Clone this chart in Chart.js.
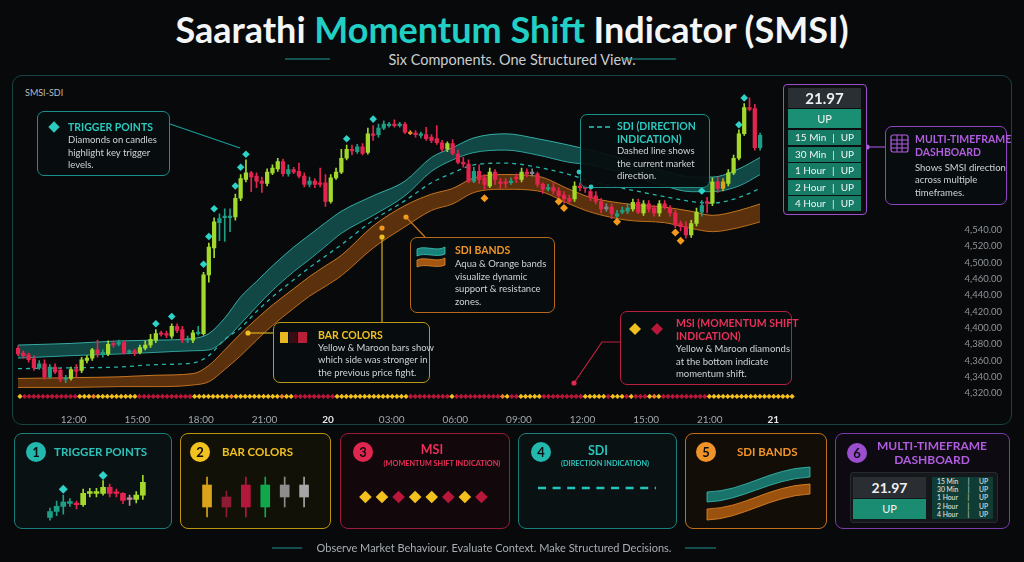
<!DOCTYPE html>
<html>
<head>
<meta charset="utf-8">
<title>Saarathi Momentum Shift Indicator (SMSI)</title>
<script src="https://cdn.jsdelivr.net/npm/chart.js"></script>
<style>
  body { margin: 0; width: 1024px; height: 562px; background: #07090b; font-family: 'Lato', sans-serif; color: #d2d5d8; position: relative; overflow: hidden; }
  .a { position: absolute; white-space: nowrap; }
  .box { position: absolute; box-sizing: border-box; border-radius: 7px; background: rgba(7, 14, 15, 0.94); border: 1.2px solid; }
  .ttl { position: absolute; font-weight: 700; font-size: 10.5px; line-height: 12.8px; white-space: nowrap; }
  .txt { position: absolute; font-size: 9.5px; line-height: 12.5px; color: #d0d3d6; white-space: nowrap; }
  .card { position: absolute; top: 433px; height: 96px; box-sizing: border-box; border-radius: 8px; border: 1px solid; }
  .num { position: absolute; width: 20px; height: 20px; border-radius: 50%; text-align: center; line-height: 20px; font-weight: 700; font-size: 13px; color: #0b0d0f; }
  .ctl { position: absolute; font-weight: 700; font-size: 11.5px; line-height: 14px; white-space: nowrap; }
  .sub { position: absolute; font-weight: 700; font-size: 7.3px; line-height: 9px; white-space: nowrap; text-align: center; }
  canvas { position: absolute; }
  .dash-row { position: absolute; left: 788px; width: 73px; height: 15px; background: #177c66; color: #f2f4f5; font-size: 10px; line-height: 15px; display: flex; justify-content: space-between; box-sizing: border-box; padding: 0 7px; }
  .mini-row { height: 8.2px; font-size: 6.8px; line-height: 8.2px; color: #e8eaec; display: flex; justify-content: space-between; padding: 0 5px; }
</style>
</head>
<body>
    <!-- HEADER -->
    <div class="a" style="left:0; width:1024px; top:9px; text-align:center; font-size:36px; line-height:40px; font-weight:700; color:#f4f5f6;">Saarathi <span style="color:#22cfc4">Momentum Shift</span> Indicator (SMSI)</div>
    <div class="a" style="left:0; width:1024px; top:51px; text-align:center; font-size:14.5px; line-height:18px; color:#c9cdd0;">Six Components. One Structured View.</div>

    <!-- CHART FRAME -->
    <div class="a" style="left:12px; top:75px; width:1000px; height:350px; box-sizing:border-box; border:1px solid #174441; border-radius:10px; background:#07090b;"></div>
    <div class="a" style="left:25px; top:87px; font-size:9px; line-height:11px; color:#b8bcc0;">SMSI-SDI</div>
    <canvas id="mainChart" width="1000" height="350" style="left:12px; top:75px;"></canvas>

    <!-- CONNECTORS AND ICONS -->
    <svg class="a" style="left:0; top:0;" width="1024" height="562">
        <line x1="285" y1="59" x2="330" y2="59" stroke="#1a9e96" stroke-width="1.2"/>
        <line x1="622" y1="59" x2="676" y2="59" stroke="#1a9e96" stroke-width="1.2"/>
        <line x1="170" y1="124" x2="240" y2="148" stroke="#1a9e96" stroke-width="1.2"/>
        <line x1="248" y1="333" x2="273" y2="333" stroke="#d8b020" stroke-width="1.2"/>
        <circle cx="248" cy="333" r="2.6" fill="#f0c020"/>
        <line x1="382" y1="237" x2="382" y2="322" stroke="#d8b020" stroke-width="1.2"/>
        <circle cx="382" cy="237" r="2.6" fill="#f0c020"/>
        <circle cx="382" cy="228" r="2.6" fill="#f09a20"/>
        <line x1="406" y1="217" x2="425" y2="237" stroke="#c8741c" stroke-width="1.2"/>
        <circle cx="406" cy="217" r="2.6" fill="#f09a20"/>
        <polyline points="574,383 602,342 620,342" fill="none" stroke="#c0203f" stroke-width="1.2"/>
        <circle cx="574" cy="383" r="2.6" fill="#e0284f"/>
        <line x1="867" y1="147" x2="885" y2="147" stroke="#9b4fcf" stroke-width="1.2"/>
        <circle cx="867" cy="147" r="2.6" fill="#b060e0"/>
        <line x1="272" y1="548" x2="302" y2="548" stroke="#1a7f7a" stroke-width="1.2"/>
        <line x1="685" y1="548" x2="716" y2="548" stroke="#1a7f7a" stroke-width="1.2"/>
    </svg>

    <!-- CALLOUT: TRIGGER POINTS -->
    <div class="box" style="left:37px; top:111px; width:133px; height:65px; border-color:#1b8f89;"></div>
    <div class="a" style="left:50px; top:123px; width:8px; height:8px; background:#2cc9bf; transform:rotate(45deg);"></div>
    <div class="ttl" style="left:68px; top:121px; color:#2cc9bf;">TRIGGER POINTS</div>
    <div class="txt" style="left:68px; top:134px;">Diamonds on candles<br>highlight key trigger<br>levels.</div>

    <!-- CALLOUT: SDI -->
    <div class="box" style="left:580px; top:114px; width:130px; height:74px; border-color:#1b8f89;"></div>
    <svg class="a" style="left:588px; top:124px;" width="24" height="6"><line x1="1" y1="3" x2="22" y2="3" stroke="#2cc9bf" stroke-width="1.6" stroke-dasharray="5 3"/></svg>
    <div class="ttl" style="left:617px; top:120px; color:#2cc9bf;">SDI (DIRECTION<br>INDICATION)</div>
    <div class="txt" style="left:617px; top:145px;">Dashed line shows<br>the current market<br>direction.</div>
    <svg class="a" style="left:0; top:0;" width="1024" height="562"><circle cx="579" cy="172" r="2.4" fill="#2cc9bf"/><circle cx="591" cy="187" r="2.4" fill="#2cc9bf"/></svg>

    <!-- CALLOUT: SDI BANDS -->
    <div class="box" style="left:410px; top:237px; width:145px; height:76px; border-color:#b8681a;"></div>
    <svg class="a" style="left:0; top:0;" width="1024" height="562">
        <path d="M417 249 C 425 245, 437 252, 445 247 L 445 254 C 437 258, 425 252, 417 256 Z" fill="rgba(34,170,160,0.75)" stroke="#3cc8bd" stroke-width="0.8"/>
        <path d="M417 260 C 425 256, 437 263, 445 258 L 445 265 C 437 269, 425 263, 417 267 Z" fill="rgba(200,105,20,0.8)" stroke="#e88a2a" stroke-width="0.8"/>
    </svg>
    <div class="ttl" style="left:455px; top:244px; color:#f0952a;">SDI BANDS</div>
    <div class="txt" style="left:455px; top:258px; line-height:12.6px;">Aqua &amp; Orange bands<br>visualize dynamic<br>support &amp; resistance<br>zones.</div>

    <!-- CALLOUT: BAR COLORS -->
    <div class="box" style="left:273px; top:322px; width:157px; height:61px; border-color:#b89a18;"></div>
    <div class="a" style="left:280px; top:332px; width:8px; height:11px; background:#e8b820;"></div>
    <div class="a" style="left:289px; top:332px; width:8px; height:11px; background:#3a0c14;"></div>
    <div class="a" style="left:298px; top:332px; width:9px; height:11px; background:#b8203a;"></div>
    <div class="ttl" style="left:318px; top:329px; color:#f0c020;">BAR COLORS</div>
    <div class="txt" style="left:318px; top:342px; line-height:12.3px;">Yellow &amp; Maroon bars show<br>which side was stronger in<br>the previous price fight.</div>

    <!-- CALLOUT: MSI -->
    <div class="box" style="left:620px; top:311px; width:172px; height:74px; border-color:#b8203f;"></div>
    <svg class="a" style="left:0; top:0;" width="1024" height="562">
        <polygon points="635,323 641,329 635,335 629,329" fill="#f0c020"/>
        <polygon points="657,323 663,329 657,335 651,329" fill="#b8173a"/>
    </svg>
    <div class="ttl" style="left:676px; top:317px; color:#e8305a;">MSI (MOMENTUM SHIFT<br>INDICATION)</div>
    <div class="txt" style="left:676px; top:343px;">Yellow &amp; Maroon diamonds<br>at the bottom indicate<br>momentum shift.</div>

    <!-- DASHBOARD PANEL -->
    <div class="a" style="left:783px; top:84px; width:84px; height:131px; box-sizing:border-box; border:1.5px solid #9b4fcf; border-radius:4px; background:#0c0e10;"></div>
    <div class="a" style="left:788px; top:88px; width:73px; height:20px; background:#2a2f34; color:#eef0f2; font-size:15px; font-weight:700; line-height:20px; text-align:center;">21.97</div>
    <div class="a" style="left:788px; top:109px; width:73px; height:19px; background:#1b8f74; color:#f2f4f5; font-size:11px; line-height:19px; text-align:center;">UP</div>
    <div class="dash-row" style="top:130px;"><span>15 Min</span><span>|</span><span>UP</span></div>
    <div class="dash-row" style="top:147px;"><span>30 Min</span><span>|</span><span>UP</span></div>
    <div class="dash-row" style="top:163px;"><span>1 Hour</span><span>|</span><span>UP</span></div>
    <div class="dash-row" style="top:180px;"><span>2 Hour</span><span>|</span><span>UP</span></div>
    <div class="dash-row" style="top:196px;"><span>4 Hour</span><span>|</span><span>UP</span></div>

    <!-- CALLOUT: MULTI-TIMEFRAME -->
    <div class="box" style="left:885px; top:126px; width:122px; height:79px; border-color:#8e44c0;"></div>
    <svg class="a" style="left:890px; top:134px;" width="20" height="20">
        <rect x="1" y="1" width="17" height="17" rx="2" fill="none" stroke="#b25ce0" stroke-width="1.2"/>
        <line x1="1" y1="6" x2="18" y2="6" stroke="#b25ce0" stroke-width="1"/>
        <line x1="1" y1="10" x2="18" y2="10" stroke="#b25ce0" stroke-width="1"/>
        <line x1="1" y1="14" x2="18" y2="14" stroke="#b25ce0" stroke-width="1"/>
        <line x1="7" y1="1" x2="7" y2="18" stroke="#b25ce0" stroke-width="1"/>
        <line x1="12" y1="1" x2="12" y2="18" stroke="#b25ce0" stroke-width="1"/>
    </svg>
    <div class="ttl" style="left:915px; top:133px; line-height:13px; color:#b25ce0;">MULTI-TIMEFRAME<br>DASHBOARD</div>
    <div class="txt" style="left:915px; top:161.5px; line-height:12.6px;">Shows SMSI direction<br>across multiple<br>timeframes.</div>

    <!-- COMPONENT CARDS -->
    <div class="card" style="left:14px; width:158px; border-color:#1a7f7a; background:#0a1112;"></div>
    <div class="card" style="left:180px; width:151px; border-color:#b8960f; background:#121108;"></div>
    <div class="card" style="left:340px; width:170px; border-color:#9a1c38; background:#12080b;"></div>
    <div class="card" style="left:518px; width:159px; border-color:#1a7f7a; background:#0a1112;"></div>
    <div class="card" style="left:685px; width:142px; border-color:#c0701a; background:#130d07;"></div>
    <div class="card" style="left:835px; width:175px; border-color:#7a3aa8; background:#0e0a12;"></div>

    <div class="num" style="left:26px; top:442px; background:#22b8ae;">1</div>
    <div class="num" style="left:190px; top:442px; background:#f2c21e;">2</div>
    <div class="num" style="left:353px; top:442px; background:#e0264f;">3</div>
    <div class="num" style="left:531px; top:442px; background:#22b8ae;">4</div>
    <div class="num" style="left:696px; top:442px; background:#f0922a;">5</div>
    <div class="num" style="left:847px; top:443px; background:#9b4fcf;">6</div>

    <div class="ctl" style="left:54px; top:445px; color:#2cc3bb;">TRIGGER POINTS</div>
    <div class="ctl" style="left:222px; top:445px; color:#f0c020;">BAR COLORS</div>
    <div class="ctl" style="left:382px; width:100px; top:443px; text-align:center; font-size:12.5px; color:#e8305a;">MSI</div>
    <div class="sub" style="left:372px; width:140px; top:459px; color:#e8305a;">(MOMENTUM SHIFT INDICATION)</div>
    <div class="ctl" style="left:548px; width:100px; top:444px; text-align:center; font-size:12.5px; color:#2cc3bb;">SDI</div>
    <div class="sub" style="left:535px; width:140px; top:459px; color:#2cc3bb;">(DIRECTION INDICATION)</div>
    <div class="ctl" style="left:737px; top:445px; color:#f0952a;">SDI BANDS</div>
    <div class="ctl" style="left:862px; width:140px; top:439px; text-align:center; font-size:12px; color:#b25ce0;">MULTI-TIMEFRAME<br>DASHBOARD</div>

    <canvas id="tpChart" width="114" height="64" style="left:40px; top:464px;"></canvas>
    <canvas id="bcChart" width="125" height="56" style="left:195px; top:468px;"></canvas>
    <canvas id="msiChart" width="150" height="30" style="left:350px; top:482px;"></canvas>

    <svg class="a" style="left:0; top:0;" width="1024" height="562">
        <line x1="538" y1="488" x2="656" y2="488" stroke="#22c5bb" stroke-width="2.5" stroke-dasharray="8 6.6"/>
        <path d="M707 492 C 745 491, 768 469, 810 467 L 810 477 C 770 479, 742 501, 707 502 Z" fill="rgba(30,150,140,0.75)" stroke="#36c0b5" stroke-width="0.8"/>
        <path d="M707 509 C 745 508, 768 486, 810 484 L 810 494 C 770 496, 742 519, 707 520 Z" fill="rgba(190,100,18,0.8)" stroke="#e88a2a" stroke-width="0.8"/>
    </svg>

    <!-- MINI DASHBOARD -->
    <div class="a" style="left:850px; top:472px; width:148px; height:51px; box-sizing:border-box; background:#15181b; border:1px solid #262a2e; border-radius:3px;"></div>
    <div class="a" style="left:853px; top:477px; width:73px; height:21px; background:#2a2e33; color:#eef0f2; font-size:14px; font-weight:700; line-height:21px; text-align:center;">21.97</div>
    <div class="a" style="left:853px; top:499px; width:73px; height:20px; background:#1a8c72; color:#f2f4f5; font-size:11px; line-height:20px; text-align:center;">UP</div>
    <div class="a" style="left:932px; top:477px; width:61px; height:42px; background:#0f3d35;">
        <div class="mini-row"><span>15 Min</span><span>|</span><span>UP</span></div>
        <div class="mini-row"><span>30 Min</span><span>|</span><span>UP</span></div>
        <div class="mini-row"><span>1 Hour</span><span>|</span><span>UP</span></div>
        <div class="mini-row"><span>2 Hour</span><span>|</span><span>UP</span></div>
        <div class="mini-row"><span>4 Hour</span><span>|</span><span>UP</span></div>
    </div>

    <!-- FOOTER -->
    <div class="a" style="left:0; width:988px; top:541px; text-align:center; font-size:11px; line-height:14px; color:#a9adb1;">Observe Market Behaviour. Evaluate Context. Make Structured Decisions.</div>

    <script>
        // ===== AXIS LABELS =====
        const xTickLabels = ['12:00', '15:00', '18:00', '21:00', '20', '03:00', '06:00', '09:00', '12:00', '15:00', '21:00', '21'];
        const yTickLabels = ['4,540.00', '4,520.00', '4,500.00', '4,460.00', '4,440.00', '4,420.00', '4,400.00', '4,380.00', '4,360.00', '4,340.00', '4,320.00'];
        const firstTick = 10.5;       // candle index of the first time label
        const candlesPerTick = 12;    // 15 min candles, 3 hour labels

        // ===== CANDLES (15 min) =====
        const opens = [4375,4369,4367,4362,4351,4356,4340,4352,4348,4337, 4338,4349,4348,4360,4363,4373,4368,4368,4381,4380,
                       4382,4370,4372,4370,4375,4379,4385,4394,4393,4390, 4402,4398,4385,4385,4393,4393,4465,4498,4529,4535,
                       4535,4536,4559,4582,4590,4586,4580,4577,4590,4595, 4604,4589,4594,4592,4586,4576,4580,4578,4578,4555,
                       4584,4591,4608,4619,4616,4622,4615,4638,4637,4645, 4648,4650,4648,4650,4640,4639,4636,4637,4634,4632,
                       4627,4619,4626,4613,4603,4601,4580,4592,4584,4574, 4591,4579,4579,4578,4585,4582,4591,4589,4589,4576,
                       4570,4572,4568,4563,4559,4558,4574,4573,4567,4562, 4555,4546,4548,4537,4542,4543,4546,4554,4541,4552,
                       4547,4541,4552,4547,4541,4528,4524,4514,4528,4542, 4555,4553,4579,4571,4577,4590,4608,4638,4670,4669,
                       4621];
        const highs = [4378,4372,4369,4366,4360,4361,4355,4356,4350,4342, 4352,4355,4364,4366,4375,4385,4373,4384,4384,4385,
                       4384,4373,4374,4379,4384,4392,4398,4396,4396,4405, 4405,4402,4390,4397,4402,4468,4504,4535,4540,4546,
                       4546,4564,4588,4606,4592,4590,4585,4595,4600,4608, 4607,4600,4597,4602,4590,4585,4583,4596,4588,4588,
                       4596,4619,4624,4624,4625,4626,4645,4648,4650,4654, 4652,4655,4652,4652,4642,4642,4640,4646,4637,4648,
                       4630,4628,4631,4618,4609,4606,4597,4600,4588,4596, 4594,4583,4583,4584,4589,4596,4595,4595,4591,4578,
                       4576,4578,4572,4567,4563,4579,4578,4577,4572,4567, 4559,4552,4552,4544,4548,4552,4558,4558,4556,4556,
                       4550,4556,4556,4550,4544,4531,4530,4532,4547,4556, 4560,4584,4585,4583,4594,4612,4643,4675,4682,4674,
                       4639];
        const lows = [4366,4363,4358,4348,4349,4337,4338,4344,4334,4333, 4336,4340,4345,4357,4360,4364,4364,4366,4376,4378,
                      4368,4368,4366,4368,4373,4376,4382,4390,4388,4387, 4394,4382,4382,4382,4391,4391,4456,4486,4507,4506,
                      4518,4532,4556,4579,4567,4572,4566,4574,4588,4592, 4586,4586,4589,4584,4573,4573,4572,4573,4549,4553,
                      4582,4589,4606,4612,4614,4612,4613,4630,4634,4643, 4646,4646,4646,4638,4637,4634,4633,4630,4627,4625,
                      4616,4616,4612,4601,4597,4578,4578,4577,4570,4572, 4576,4571,4572,4576,4578,4579,4585,4586,4573,4565,
                      4568,4564,4560,4553,4552,4555,4568,4566,4556,4552, 4541,4543,4534,4535,4540,4540,4543,4540,4538,4542,
                      4537,4537,4546,4537,4523,4519,4510,4511,4525,4537, 4541,4550,4566,4568,4574,4588,4606,4636,4666,4618,
                      4618];
        const closes = [4368,4366,4361,4351,4356,4340,4352,4346,4337,4339, 4349,4347,4361,4363,4373,4368,4370,4380,4379,4382,
                        4369,4372,4369,4376,4379,4386,4393,4392,4391,4402, 4397,4385,4387,4394,4395,4465,4499,4530,4534,4537,
                        4537,4559,4583,4590,4585,4580,4577,4591,4596,4604, 4589,4594,4591,4586,4576,4580,4576,4576,4555,4584,
                        4591,4608,4619,4617,4622,4614,4638,4636,4645,4650, 4650,4648,4650,4640,4638,4637,4638,4632,4630,4627,
                        4619,4626,4614,4603,4601,4580,4592,4582,4576,4591, 4582,4577,4577,4580,4583,4591,4589,4591,4576,4570,
                        4572,4568,4562,4558,4555,4574,4572,4571,4560,4555, 4546,4548,4540,4540,4544,4547,4554,4542,4552,4546,
                        4541,4552,4548,4541,4526,4524,4514,4528,4542,4550, 4553,4579,4571,4579,4590,4608,4638,4670,4668,4621,
                        4636];
        // bar colour state: L strong up, T up, R down, G neutral, O / Y shift bars
        const barKinds = 'RRRRTRTRRT' + 'LRLLLRTLRT' + 'RTRLLLLRRL' + 'RRTLTLLLTT' + 'TLLLRRRLLL' +
                         'RTRRRTRRRL' + 'LLLRTRLRTT' + 'TRTROR' + 'TRRR' + 'RLRRRRTRRL' +
                         'RRRTRLRGRR' + 'TRRRRLRRRR' + 'RGRTTTLRLR' + 'RLRRRRRLLT' + 'RLRYLLLLRR' + 'T';

        // ===== TRIGGER POINTS (above candles) & SHIFT DIAMONDS (below candles) =====
        const triggerIdx = [26, 29, 35, 36, 37, 41, 42, 43, 62, 67, 129, 136, 137];
        const triggerVal = [4405, 4414, 4478, 4512, 4546, 4574, 4597, 4613, 4632, 4656, 4568, 4649, 4682];
        const shiftIdx = [88, 102, 103, 113, 124, 125];
        const shiftVal = [4559, 4555, 4547, 4530, 4517, 4507];

        // ===== SDI BANDS & SDI LINE =====
        const bandIdx =    [0, 10, 19, 26, 33, 36, 39, 42, 45, 48, 52, 55, 58, 61, 67, 73, 78, 82, 86, 92, 98, 104, 108, 115, 122, 127, 131, 136, 140];
        const aquaHigh =   [4379,4381,4384,4385,4387,4393,4412,4438,4457,4476,4499,4514,4529,4543,4562,4580,4609,4621,4633,4638,4632,4624,4618,4606,4592,4585,4585,4595,4609];
        const aquaLow =    [4363,4366,4368,4370,4372,4373,4385,4405,4426,4446,4469,4484,4500,4516,4538,4562,4592,4606,4615,4618,4612,4603,4600,4588,4574,4567,4567,4574,4588];
        const orangeHigh = [4338,4339,4340,4342,4344,4354,4373,4393,4411,4428,4448,4463,4476,4489,4525,4550,4564,4571,4584,4588,4586,4570,4560,4552,4548,4543,4538,4544,4552];
        const orangeLow =  [4327,4327,4328,4328,4330,4334,4349,4366,4385,4403,4424,4439,4451,4464,4498,4524,4544,4552,4566,4570,4568,4552,4542,4532,4529,4522,4518,4523,4530];
        const sdiLine =    [4350,4351,4352,4355,4357,4366,4386,4400,4420,4438,4459,4474,4488,4502,4532,4556,4578,4590,4600,4602,4597,4588,4580,4570,4561,4555,4553,4560,4571];

        // ===== MSI ROW (Y yellow, M maroon, O orange) =====
        const msiStates = ('Y MMMMMMMMMMMM YYYOYYYYYYYYY MMMMMMMMMMMM YYYYYYYYOYYYYYYYYYYOYY MMMMMMMMM YYYYYYYYYYYYYYYY ' +
                           'MMMMMMMMM Y MMMMMMMMMM OY MM YYYYY MMMMMMMMM YYYYY M YYY M Y MMM YOY MMMMMMMMMM YYYYYYYYYYYYYYYYYYY')
                           .replace(/ /g, '').split('');
        const msiLevel = 4316;

        // ===== CARD SAMPLES =====
        const tpOpen  = [9, 16, 22, 25.5, 25, 24, 37, 37, 37, 44, 38, 37, 30, 30, 35];
        const tpHigh  = [20, 28, 35, 31, 28, 42, 43, 43, 52, 48, 42, 38, 35, 39, 58];
        const tpLow   = [6, 11, 13, 22, 19, 22, 33, 33, 35, 33, 33, 25, 23, 26, 30];
        const tpClose = [16, 22, 27, 27.5, 24, 37, 39, 39, 44, 37, 37, 29, 32, 35, 50];
        const tpKinds = 'TTTTRLLLLRRRPLL';
        const tpTrigIdx = [2, 8];
        const tpTrigVal = [42, 58];

        const bcOpen  = [23, 33, 45, 23, 33, 33];
        const bcHigh  = [53, 39, 53, 53, 53, 53];
        const bcLow   = [13, 13, 13, 13, 23, 23];
        const bcClose = [45, 23, 23, 45, 45, 45];
        const bcKinds = 'YMCESW';

        const msiSample = ['Y', 'Y', 'M', 'Y', 'Y', 'M', 'Y', 'M'];

        // ===== COLOURS =====
        const barPalette = { L: '#a3d92c', T: '#1f9e86', R: '#e2244e', G: '#7f8589', O: '#e8892a', Y: '#d9a41c',
                             M: '#8e1b34', C: '#b3173c', E: '#11a84b', S: '#8d8d8d', W: '#a5a5a5', P: '#c68c9c' };
        const msiPalette = { Y: '#f3c11d', M: '#b8173a', O: '#ef7d2c' };

        Chart.defaults.font.family = 'Lato';

        function candleDatasets(o, h, l, c, kinds, bodyW) {
            const colors = kinds.split('').map(k => barPalette[k]);
            return [
                { type: 'bar', data: o.map((v, i) => ({ x: i, y: [Math.min(v, c[i]), Math.max(v, c[i])] })),
                  backgroundColor: colors, barThickness: bodyW, grouped: false, minBarLength: 1.5, order: 3 },
                { type: 'bar', data: l.map((v, i) => ({ x: i, y: [v, h[i]] })),
                  backgroundColor: colors, barThickness: 1, grouped: false, order: 4 }
            ];
        }

        function bandLine(vals, color, extra) {
            return Object.assign({ type: 'line', data: bandIdx.map((x, k) => ({ x: x, y: vals[k] })),
                borderColor: color, borderWidth: 1, pointRadius: 0, cubicInterpolationMode: 'monotone', fill: false, order: 10 }, extra);
        }

        function diamonds(idx, vals, color, radius, extra) {
            return Object.assign({ type: 'line', data: idx.map((x, k) => ({ x: x, y: vals[k] })), showLine: false, clip: false,
                pointStyle: 'rectRot', pointRadius: radius, pointBackgroundColor: color, pointBorderWidth: 0, order: 1 }, extra);
        }

        // ===== MAIN CHART =====
        new Chart(document.getElementById('mainChart'), {
            type: 'bar',
            data: {
                datasets: [
                    bandLine(aquaHigh, 'rgba(70,215,205,0.75)', { fill: '+1', backgroundColor: 'rgba(30,160,150,0.42)' }),
                    bandLine(aquaLow, 'rgba(70,215,205,0.75)'),
                    bandLine(orangeHigh, 'rgba(235,140,40,0.8)', { fill: '+1', backgroundColor: 'rgba(195,100,15,0.45)' }),
                    bandLine(orangeLow, 'rgba(235,140,40,0.8)'),
                    bandLine(sdiLine, '#28b5aa', { borderWidth: 1.3, borderDash: [4, 4], order: 9 }),
                    ...candleDatasets(opens, highs, lows, closes, barKinds, 3.6),
                    diamonds(triggerIdx, triggerVal, '#2fd2c6', 3.8),
                    diamonds(shiftIdx, shiftVal, '#f39a1c', 4),
                    diamonds(msiStates.map((s, i) => i), msiStates.map(() => msiLevel),
                             msiStates.map(s => msiPalette[s]), 2.7, { xAxisID: 'x2' })
                ]
            },
            options: {
                responsive: false,
                animation: false,
                layout: { padding: { left: 4, top: 10, right: 10, bottom: 0 } },
                plugins: { legend: { display: false }, tooltip: { enabled: false } },
                scales: {
                    x: {
                        type: 'linear', min: -0.38, max: 176.2, offset: false,
                        grid: { display: false }, border: { display: false },
                        afterBuildTicks: s => { s.ticks = xTickLabels.map((_, k) => ({ value: firstTick + k * candlesPerTick })); },
                        afterFit: s => { s.height = 25; },
                        ticks: {
                            autoSkip: false, maxRotation: 0, padding: 6,
                            color: ctx => (xTickLabels[ctx.index] || '').includes(':') ? '#a3a8ad' : '#e6e8ea',
                            font: ctx => ({ size: 10, weight: (xTickLabels[ctx.index] || '').includes(':') ? 'normal' : 'bold' }),
                            callback: (v, i) => xTickLabels[i]
                        }
                    },
                    x2: { type: 'linear', display: false, min: -0.87, max: 202.8, offset: false },
                    y: {
                        position: 'right', min: 4311.6, max: 4689.6,
                        grid: { display: false }, border: { display: false },
                        afterBuildTicks: s => { s.ticks = yTickLabels.map((_, k) => ({ value: 4320 + 20 * k })); },
                        afterFit: s => { s.width = 50; },
                        ticks: {
                            autoSkip: false, crossAlign: 'far', padding: 11, color: '#8f959a', font: { size: 9.5 },
                            callback: (v, i) => yTickLabels[yTickLabels.length - 1 - i]
                        }
                    }
                }
            }
        });

        // ===== CARD MINI CHARTS =====
        function miniOptions(xmin, xmax, ymin, ymax) {
            return {
                responsive: false, animation: false, layout: { padding: 0 },
                plugins: { legend: { display: false }, tooltip: { enabled: false } },
                scales: {
                    x: { type: 'linear', display: false, min: xmin, max: xmax, offset: false },
                    y: { display: false, min: ymin, max: ymax }
                }
            };
        }

        new Chart(document.getElementById('tpChart'), {
            type: 'bar',
            data: { datasets: [
                ...candleDatasets(tpOpen, tpHigh, tpLow, tpClose, tpKinds, 5),
                diamonds(tpTrigIdx, tpTrigVal, '#2fd2c6', 4.5)
            ] },
            options: miniOptions(-0.83, 15.0, 2, 66)
        });

        new Chart(document.getElementById('bcChart'), {
            type: 'bar',
            data: { datasets: candleDatasets(bcOpen, bcHigh, bcLow, bcClose, bcKinds, 9) },
            options: miniOptions(-0.62, 5.82, 6, 62)
        });

        new Chart(document.getElementById('msiChart'), {
            type: 'line',
            data: { datasets: [
                diamonds(msiSample.map((s, i) => i), msiSample.map(() => 1), msiSample.map(s => msiPalette[s]), 6.3)
            ] },
            options: miniOptions(-0.55, 7.74, 0, 2)
        });
    </script>
</body>
</html>
